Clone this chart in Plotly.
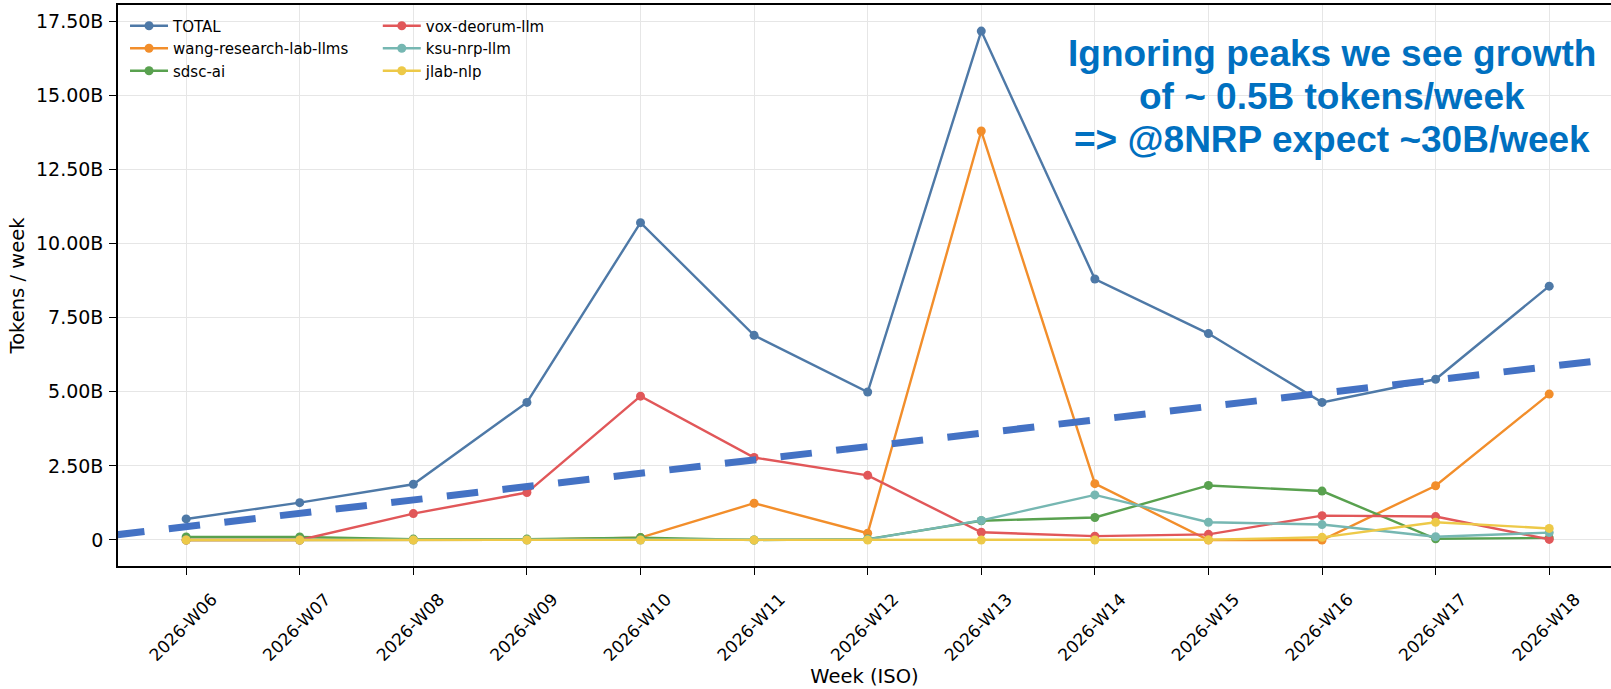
import plotly.graph_objects as go

weeks = ["2026-W06", "2026-W07", "2026-W08", "2026-W09", "2026-W10", "2026-W11", "2026-W12",
         "2026-W13", "2026-W14", "2026-W15", "2026-W16", "2026-W17", "2026-W18"]

# values in billions of tokens per week
total = [0.71, 1.26, 1.88, 4.64, 10.70, 6.90, 4.99, 17.16, 8.80, 6.96, 4.64, 5.42, 8.56]
wang = [0.0, 0.0, 0.01, 0.01, 0.08, 1.24, 0.23, 13.79, 1.90, 0.0, 0.0, 1.83, 4.92]
sdsc = [0.10, 0.10, 0.03, 0.03, 0.08, 0.0, 0.03, 0.65, 0.76, 1.84, 1.65, 0.04, 0.07]
vox = [0.0, 0.0, 0.89, 1.60, 4.85, 2.78, 2.18, 0.26, 0.13, 0.19, 0.82, 0.79, 0.02]
ksu = [0.0, 0.0, 0.0, 0.0, 0.0, 0.0, 0.02, 0.66, 1.52, 0.60, 0.52, 0.11, 0.25]
jlab = [0.0, 0.0, 0.0, 0.0, 0.0, 0.0, 0.0, 0.0, 0.0, 0.01, 0.09, 0.60, 0.39]

# trend line (hand-drawn growth line) endpoints, in week index / billions
trend_x = [-0.643, 12.6]
trend_y = [0.161, 6.12]

y_tick_vals = [0, 2.5, 5, 7.5, 10, 12.5, 15, 17.5]
y_tick_text = ["0", "2.50B", "5.00B", "7.50B", "10.00B", "12.50B", "15.00B", "17.50B"]

note_lines = ["Ignoring peaks we see growth", "of ~ 0.5B tokens/week", "=> @8NRP expect ~30B/week"]

series = [
    ("TOTAL", total, "#4e79a7", "legend"),
    ("wang-research-lab-llms", wang, "#f28e2b", "legend"),
    ("sdsc-ai", sdsc, "#59a14f", "legend"),
    ("vox-deorum-llm", vox, "#e15759", "legend2"),
    ("ksu-nrp-llm", ksu, "#76b7b2", "legend2"),
    ("jlab-nlp", jlab, "#edc948", "legend2"),
]

x_idx = list(range(len(weeks)))

fig = go.Figure()
for name, vals, color, leg in series:
    fig.add_trace(go.Scatter(
        x=x_idx, y=vals, name=name, mode="lines+markers",
        line=dict(color=color, width=2.4),
        marker=dict(color=color, size=9),
        legend=leg,
    ))

fig.add_trace(go.Scatter(
    x=trend_x, y=trend_y, mode="lines", showlegend=False,
    line=dict(color="#4472c4", width=7, dash="31.5px,24.5px"),
    hoverinfo="skip",
))

font_main = "DejaVu Sans"
W, H = 1611, 689
ml, mr, mt, mb = 118, 0, 5, 123
pw = W - ml - mr
ph = H - mt - mb

note_centers_px = [53.5, 96.5, 139.5]
annotations = []
for line, cy in zip(note_lines, note_centers_px):
    annotations.append(dict(
        text="<b>" + line + "</b>",
        xref="paper", yref="paper", x=(1332 - ml) / pw, y=(566 - cy) / ph,
        xanchor="center", yanchor="middle", align="center", showarrow=False,
        font=dict(family="Liberation Sans", size=37, color="#0070c0"),
    ))

fig.update_layout(
    width=W, height=H,
    margin=dict(l=ml, r=mr, t=mt, b=mb, pad=0),
    paper_bgcolor="white", plot_bgcolor="white",
    font=dict(family=font_main, color="black", size=18.5),
    legend=dict(x=0.0047, y=0.992, xanchor="left", yanchor="top",
                bgcolor="rgba(0,0,0,0)", font=dict(size=15, family=font_main),
                itemwidth=38, tracegroupgap=0),
    legend2=dict(x=0.174, y=0.992, xanchor="left", yanchor="top",
                 bgcolor="rgba(0,0,0,0)", font=dict(size=15, family=font_main),
                 itemwidth=38, tracegroupgap=0),
    xaxis=dict(
        range=[-0.6, (W - 186) / 113.6],
        tickmode="array", tickvals=x_idx, ticktext=weeks, tickangle=-45,
        tickfont=dict(size=17),
        ticklabelshift=26, ticklabelstandoff=8,
        showgrid=True, gridcolor="#e6e6e6", gridwidth=1,
        showline=True, linecolor="black", linewidth=1.6, mirror=True,
        ticks="outside", ticklen=7, tickwidth=1.4, tickcolor="black",
        zeroline=False, automargin=False,
        title=dict(text="Week (ISO)", font=dict(size=19.5), standoff=2),
    ),
    yaxis=dict(
        range=[-0.877, 18.04],
        tickmode="array", tickvals=y_tick_vals, ticktext=y_tick_text,
        tickfont=dict(size=19), ticklabelstandoff=2,
        showgrid=True, gridcolor="#e6e6e6", gridwidth=1,
        showline=True, linecolor="black", linewidth=1.6,
        ticks="outside", ticklen=7, tickwidth=1.4, tickcolor="black",
        zeroline=False, automargin=False,
        title=dict(text="Tokens / week", font=dict(size=19.5), standoff=6),
    ),
    annotations=annotations,
)

fig.write_html("out.html", config={"displayModeBar": False},
               post_script="document.body.style.margin='0';document.body.style.overflow='hidden';")
